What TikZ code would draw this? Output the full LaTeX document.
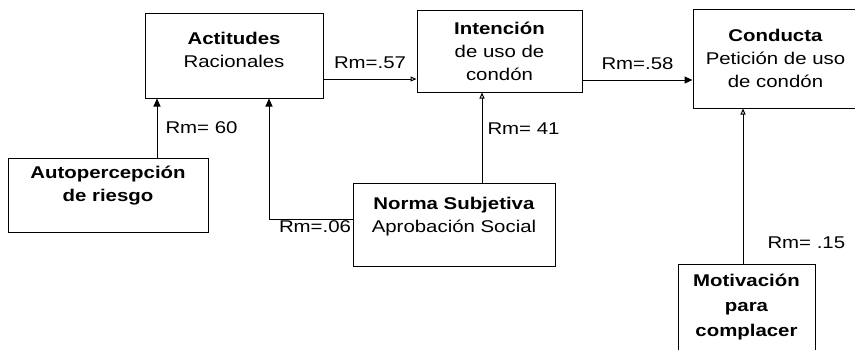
\documentclass[tikz,border=0pt]{standalone}
\usepackage{fontspec}
\setmainfont[FakeStretch=1.2]{Liberation Sans}
\usetikzlibrary{arrows.meta}
\tikzset{
  caja/.style={draw, line width=1pt, align=center, inner sep=0pt, font=\fontsize{17}{23}\selectfont},
  flecha/.style={line width=1pt, -{Triangle[open,length=6pt,width=5pt]}},
  flechallena/.style={line width=1pt, -{Triangle[length=8pt,width=7pt]}},
  coef/.style={font=\fontsize{17}{20}\selectfont, inner sep=2pt},
}
\begin{document}
\begin{tikzpicture}[x=1pt,y=-1pt]
\useasboundingbox (0,0) rectangle (855,349);
\clip (0,0) rectangle (855,349);
\node[caja, minimum width=178pt, minimum height=85pt, text depth=11pt] (act) at (234,55.5) {\textbf{Actitudes}\\Racionales};
\node[caja, minimum width=165pt, minimum height=82pt] (inte) at (499.5,51) {\textbf{Intención}\\de uso de\\condón};
\node[caja, minimum width=165pt, minimum height=99pt] (cond) at (775.5,58.5) {\textbf{Conducta}\\Petición de uso\\de condón};
\node[caja, minimum width=200pt, minimum height=74pt, text depth=22pt] (auto) at (108,195) {\textbf{Autopercepción}\\\textbf{de riesgo}};
\node[caja, minimum width=202pt, minimum height=83pt, text depth=20pt] (norma) at (454,224.5) {\textbf{Norma Subjetiva}\\Aprobación Social};
\node[caja, minimum width=137pt, minimum height=96pt, text depth=14pt, font=\fontsize{17}{25}\selectfont\bfseries] (motiv) at (746.5,312) {Motivación\\para\\complacer};

\draw[flecha] (act.east |- 0,79) -- node[coef, above=8pt] {Rm=.57} (inte.west |- 0,79);
\draw[flechallena] (inte.east |- 0,80) -- node[coef, above=8pt] {Rm=.58} (cond.west |- 0,80);
\draw[flechallena] (auto.north -| 157,0) -- node[coef, right=6pt] {Rm= 60} (act.south -| 157,0);
\draw[flechallena] (norma.west |- 0,219) node[coef, below left, inner sep=1pt] {Rm=.06} -| (act.south -| 269,0);
\draw[flecha] (norma.north -| 482,0) -- node[coef, right=3pt, pos=.6] {Rm= 41} (inte.south -| 482,0);
\draw[flecha] (motiv.north -| 743,0) -- node[coef, right=22pt, pos=.135] {Rm= .15} (cond.south -| 743,0);
\end{tikzpicture}
\end{document}
